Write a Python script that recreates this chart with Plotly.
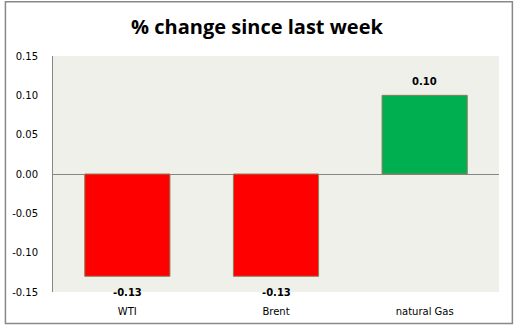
import plotly.graph_objects as go

categories = ["WTI", "Brent", "natural Gas"]
values = [-0.13, -0.13, 0.10]
bar_colors = ["#FF0000", "#FF0000", "#00B050"]
tick_vals = [-0.15, -0.10, -0.05, 0.00, 0.05, 0.10, 0.15]
tick_text = ["-0.15", "-0.10", "-0.05", "0.00", "0.05", "0.10", "0.15"]
title_text = "% change since last week"

W, H = 514, 329
L, R, T, B = 49, 15, 56, 34
pw, ph = W - L - R, H - T - B

fig = go.Figure()
fig.add_trace(go.Bar(
    x=categories, y=values, width=0.573,
    marker=dict(color=bar_colors, line=dict(color="#8C7F5A", width=1)),
    hoverinfo="skip",
))

annotations = []
for c, v in zip(categories, values):
    annotations.append(dict(
        x=c, y=v, xref="x", yref="y", text="%.2f" % v, showarrow=False,
        yanchor="top" if v < 0 else "bottom",
        yshift=-9 if v < 0 else 6,
        font=dict(family="DejaVu Sans", size=10, color="#000000", weight="bold"),
    ))

fig.update_layout(
    width=W, height=H,
    margin=dict(l=L, r=R, t=T, b=B),
    paper_bgcolor="#FFFFFF",
    plot_bgcolor="#EFF0E9",
    showlegend=False,
    title=dict(text=title_text, x=0.5, xref="container", xanchor="center",
               y=1 - 27 / H, yanchor="middle",
               font=dict(family="Open Sans", size=20, color="#000000", weight="bold")),
    xaxis=dict(showgrid=False, zeroline=False, showline=False, ticks="",
               tickfont=dict(family="DejaVu Sans", size=10, color="#000000"),
               ticklabelstandoff=12, fixedrange=True),
    yaxis=dict(range=[-0.15, 0.15], tickvals=tick_vals, ticktext=tick_text,
               showgrid=False, zeroline=True, zerolinecolor="#868686", zerolinewidth=1,
               showline=True, linecolor="#868686", linewidth=1, ticks="",
               tickfont=dict(family="DejaVu Sans", size=10, color="#000000"),
               ticklabelstandoff=12, fixedrange=True),
    annotations=annotations,
    shapes=[dict(type="rect", xref="paper", yref="paper",
                 x0=(1 - L) / pw, x1=(512.5 - L) / pw,
                 y0=(T + ph - 327) / ph, y1=(T + ph - 1) / ph,
                 line=dict(color="#888888", width=1.5), fillcolor="rgba(0,0,0,0)",
                 layer="above")],
)

fig.write_html("out.html")
